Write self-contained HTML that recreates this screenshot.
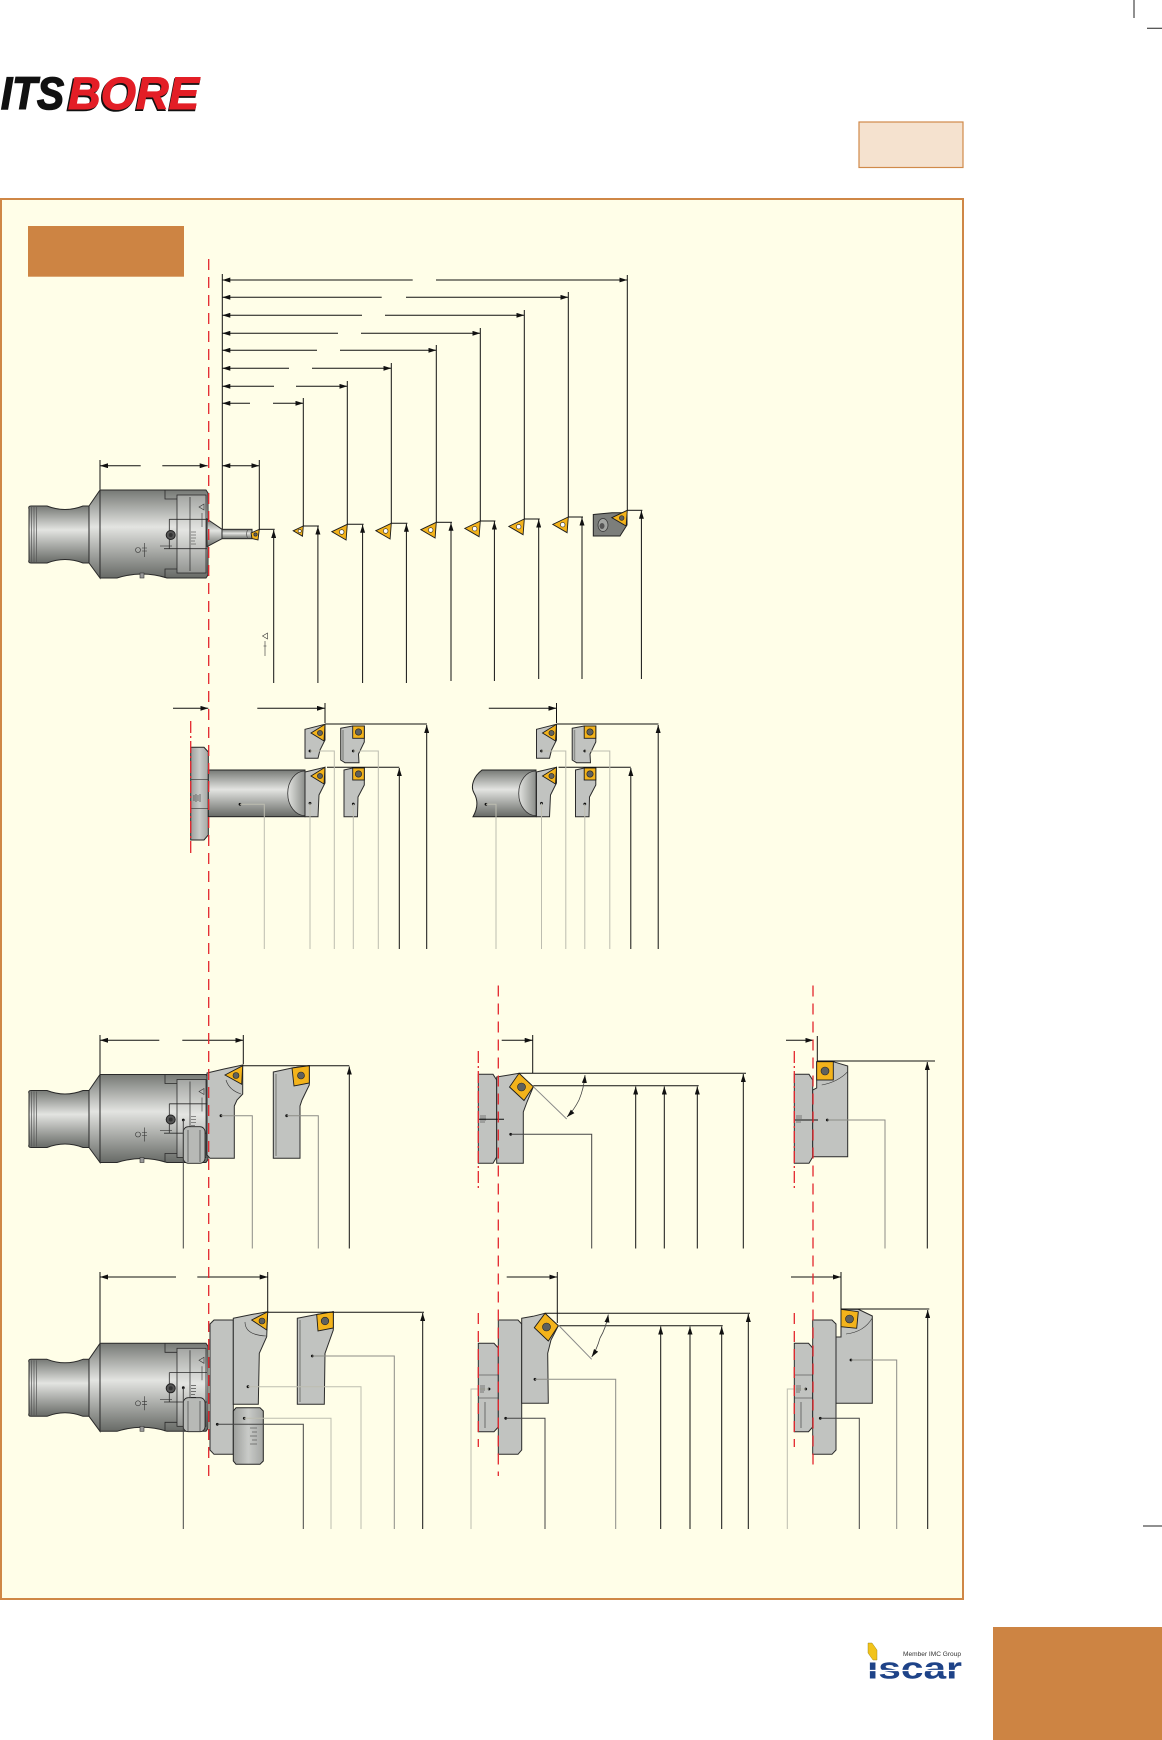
<!DOCTYPE html>
<html><head><meta charset="utf-8"><style>
html,body{margin:0;padding:0;background:#fff;}
svg{display:block;}
.c{fill:#c1c3c0;stroke:#2b2b2b;stroke-width:1}
.i{fill:#f3b31b;stroke:#1d1d1d;stroke-width:.9}
.s{fill:#5f615e;stroke:#222;stroke-width:.6}
.d{stroke:#111;stroke-width:1;fill:none}
.a{marker-end:url(#ar)}
.l1{stroke:#bdbdb0;stroke-width:1;fill:none}
.l2{stroke:#8c8c86;stroke-width:1;fill:none}
.l3{stroke:#444;stroke-width:1;fill:none}
.r{stroke:#e3262d;stroke-width:1.3;stroke-dasharray:11 7;fill:none}
.rd{stroke:#e3262d;stroke-width:1.3;stroke-dasharray:12 3 2 3;fill:none}
.t{stroke:#333;stroke-width:.6;fill:none}
</style></head><body>
<svg width="1162" height="1740" viewBox="0 0 1162 1740" xmlns="http://www.w3.org/2000/svg">
<defs>
<marker id="ar" viewBox="0 0 8 5" refX="8" refY="2.5" markerWidth="8" markerHeight="5" orient="auto" markerUnits="userSpaceOnUse"><path d="M0,0L8,2.5L0,5Z" fill="#111"/></marker>
<linearGradient id="g" x1="0" y1="0" x2="0" y2="1">
<stop offset="0" stop-color="#767975"/><stop offset="0.42" stop-color="#e3e4e1"/><stop offset="1" stop-color="#676a66"/>
</linearGradient>
<linearGradient id="gl" x1="0" y1="0" x2="0" y2="1">
<stop offset="0" stop-color="#a3a5a2"/><stop offset="0.45" stop-color="#e4e5e2"/><stop offset="1" stop-color="#939592"/>
</linearGradient>
<linearGradient id="gh" x1="0" y1="0" x2="1" y2="0">
<stop offset="0" stop-color="#e2e3e0"/><stop offset="1" stop-color="#8b8e8a"/>
</linearGradient>
<linearGradient id="gf" x1="0" y1="0" x2="1" y2="0">
<stop offset="0" stop-color="#9c9e9b"/><stop offset="0.5" stop-color="#c9cbc8"/><stop offset="1" stop-color="#a4a6a3"/>
</linearGradient>

<g id="tool">
<path d="M29,509 Q28,506 31,506 L47,506 Q65,513 83,506 L89,506 L89,563 L83,563 Q65,556 47,563 L31,563 Q28,563 29,560 Z" fill="url(#g)" stroke="#2a2a2a"/>
<path d="M31.5,507V562M34,507V562M36.5,507V562" stroke="#555" stroke-width=".7"/>
<path d="M89,506 L100,490 L100,578 L89,563 Z" fill="url(#g)" stroke="#2a2a2a"/>
<path d="M100,490 H206 L208,493 V575 L206,578 H167 Q142,570 117,578 H100 Z" fill="url(#g)" stroke="#2a2a2a"/>
<rect x="140" y="573" width="4" height="5" fill="#999" stroke="#333" stroke-width=".6"/>
<path d="M165,490 V499 H177 M165,578 V569 H177" fill="none" stroke="#2a2a2a" stroke-width=".8"/>
<rect x="177" y="495" width="29" height="78" fill="url(#gl)" stroke="#2a2a2a" stroke-width=".8"/>
<path d="M190,497 V571" stroke="#2a2a2a" stroke-width=".7"/>
<path d="M169.3,519.3 H207 M164,548.7 H207 M169.3,519.3 V548.7" stroke="#2a2a2a" stroke-width=".8" fill="none"/>
<circle cx="170.7" cy="535" r="4.5" fill="#555" stroke="#222"/>
<circle cx="170.7" cy="535" r="2" fill="#333"/>
<path d="M191,532H196M191,535H196M191,538H196M191,541H195M191,544H196" class="t"/>
<path d="M199,507 L204,504 L204,510Z" class="t"/>
<path d="M202,513V527" class="t"/>
<circle cx="138" cy="550" r="2.5" class="t"/>
<path d="M142,548H147M142,551H147M144.5,543V557" class="t"/>
<path d="M160,546 H172" class="t"/>
</g>

<g id="r2">
<path d="M305,729.3 L325,724.3 L325,740 L320,750 L318,758.3 L305,758.3Z" class="c"/>
<path d="M311,733 L325,724.3 L324,741Z" class="i"/>
<circle cx="320" cy="733" r="2.6" class="s"/>
<circle cx="310" cy="751" r="1.4" fill="#111"/>
<path d="M305,772 L325,767.3 L325,783 L319,795 L318,816.7 L305,816.7Z" class="c"/>
<path d="M311,776 L325,767.3 L324,784Z" class="i"/>
<circle cx="320" cy="776" r="2.6" class="s"/>
<circle cx="310" cy="803.3" r="1.4" fill="#111"/>
<path d="M340.7,728.3 L352.7,726 L364.3,726 L364.3,742 L358.5,754 L359,762.7 L345,762.7 L340.7,760Z" class="c"/>
<path d="M343,730 V760" stroke="#8c8e8b" stroke-width="1.5"/>
<rect x="352.7" y="726" width="11.6" height="12.3" class="i"/>
<circle cx="358.5" cy="732" r="3.2" class="s"/>
<circle cx="353.3" cy="751" r="1.4" fill="#111"/>
<path d="M344,770 L352.7,768 L364.3,768 L364.3,785 L358,797 L357.5,816.7 L344,816.7Z" class="c"/>
<rect x="352.7" y="768" width="11.6" height="12" class="i"/>
<circle cx="358.5" cy="774" r="3.2" class="s"/>
<circle cx="353.3" cy="804" r="1.4" fill="#111"/>
<path d="M257.3,708.3 H325" class="d a"/>
<path d="M325,703 V723" class="d"/>
<path d="M325,724 H427" class="d"/>
<path d="M426.7,949 V725" class="d a"/>
<path d="M327,767.3 H399.3" class="d"/>
<path d="M399.3,949 V768" class="d a"/>
<path d="M310,803.3 V949" class="l1"/>
<path d="M310,751 H334.3 V949" class="l1"/>
<path d="M353.3,804 V949" class="l1"/>
<path d="M353.3,751 H378.3 V949" class="l1"/>
</g>
</defs>

<!-- crop marks -->
<path d="M1134,0 V18 M1147,28.3 H1162 M1143,1526 H1162 M1143,1714.7 H1162 M1132,1720 V1740" stroke="#222" stroke-width="1"/>

<!-- logo -->
<g font-family="Liberation Sans, sans-serif" font-weight="bold" font-style="italic" font-size="45">
<text x="1" y="109" textLength="63" lengthAdjust="spacingAndGlyphs" fill="#111" stroke="#111" stroke-width="1.5">ITS</text>
<text x="66.5" y="110.5" textLength="132" lengthAdjust="spacingAndGlyphs" fill="#111" stroke="#111" stroke-width="1.5">BORE</text>
<text x="68" y="109" textLength="131" lengthAdjust="spacingAndGlyphs" fill="#e31e26" stroke="#e31e26" stroke-width="1">BORE</text>
</g>

<!-- peach box -->
<rect x="859" y="122" width="104" height="45.5" fill="#f5e2cf" stroke="#d08a4a" stroke-width="1.2"/>

<!-- main panel -->
<rect x="1" y="199" width="962" height="1400" fill="#fffee8" stroke="#cf8746" stroke-width="2"/>
<rect x="28" y="226" width="156" height="50.7" fill="#cd8443"/>

<!-- bottom right box -->
<rect x="993" y="1627" width="169" height="113" fill="#cd8443"/>

<!-- iscar -->
<polygon points="868,1643 872,1643 877,1650 877,1660 873,1660 868,1653" fill="#f2c31a" stroke="#8a7a10" stroke-width=".4"/>
<text x="903" y="1656" font-size="6.3" font-family="Liberation Sans, sans-serif" fill="#333" textLength="58" lengthAdjust="spacingAndGlyphs">Member IMC Group</text>
<text x="867" y="1678.5" font-size="31" font-weight="bold" font-family="Liberation Sans, sans-serif" fill="#1e4388" textLength="95" lengthAdjust="spacingAndGlyphs">ıscar</text>
<path d="M866,1670.5 H963" stroke="#fff" stroke-width="1.2"/>

<!-- ================= ROW 1 ================= -->
<!-- top dims -->
<g class="d">
<path d="M222.3,274 V529.3"/>
<path d="M412.7,280 H222.3" class="a"/><path d="M436,280 H627.3" class="a"/>
<path d="M381.7,297.3 H222.3" class="a"/><path d="M406,297.3 H568.3" class="a"/>
<path d="M362,315.3 H222.3" class="a"/><path d="M385,315.3 H524.3" class="a"/>
<path d="M338,333.3 H222.3" class="a"/><path d="M361,333.3 H480.3" class="a"/>
<path d="M317,350.3 H222.3" class="a"/><path d="M340,350.3 H436.3" class="a"/>
<path d="M289,368.3 H222.3" class="a"/><path d="M312,368.3 H391.3" class="a"/>
<path d="M274,386.3 H222.3" class="a"/><path d="M296,386.3 H347.3" class="a"/>
<path d="M250,403.3 H222.3" class="a"/><path d="M273,403.3 H303.3" class="a"/>
<path d="M627.3,275 V510.3"/>
<path d="M568.3,292 V517"/>
<path d="M524.3,310 V519"/>
<path d="M480.3,328 V521"/>
<path d="M436.3,345 V522.3"/>
<path d="M391.3,363 V523.3"/>
<path d="M347.3,381 V524.3"/>
<path d="M303.3,398 V526"/>
<!-- dim above tool -->
<path d="M140.7,465.7 H100" class="a"/><path d="M162.3,465.7 H207.7" class="a"/>
<path d="M100,460 V490"/>
<path d="M240,465.7 H222.3" class="a"/><path d="M240,465.7 H259.3" class="a"/>
<path d="M259.3,460 V529"/>
</g>

<use href="#tool"/>
<!-- boring bar -->
<path d="M207,519 L222,529.3 L222,538.7 L207,546.7 Z" fill="url(#g)" stroke="#2a2a2a"/>
<rect x="222" y="529.3" width="30" height="9.4" fill="url(#g)" stroke="#2a2a2a"/>
<path d="M248,529.5 Q245,534 248,538.5" fill="none" stroke="#555" stroke-width=".7"/>
<path d="M251,533 L259.3,529.3 L258,540 L252,538.5Z" class="i"/>
<circle cx="255.5" cy="534.5" r="1.7" class="s"/>

<!-- inserts row 1 -->
<g>
<path d="M293.2,530.8 L303.3,526 L302.5,536.2Z" class="i"/><circle cx="299.7" cy="531" r="1.6" fill="#fff" stroke="#222" stroke-width=".6"/>
<path d="M331.8,531.7 L347.3,524.3 L346.1,540Z" class="i"/><circle cx="341.7" cy="532" r="2.3" fill="#fff" stroke="#222" stroke-width=".6"/>
<path d="M375.8,530.7 L391.3,523.3 L390.1,539Z" class="i"/><circle cx="385.7" cy="531" r="2.3" fill="#fff" stroke="#222" stroke-width=".6"/>
<path d="M420.8,529.7 L436.3,522.3 L435.1,538Z" class="i"/><circle cx="430.7" cy="530" r="2.3" fill="#fff" stroke="#222" stroke-width=".6"/>
<path d="M464.8,528.4 L480.3,521 L479.1,536.7Z" class="i"/><circle cx="474.7" cy="528.7" r="2.3" fill="#fff" stroke="#222" stroke-width=".6"/>
<path d="M508.8,526.4 L524.3,519 L523.1,534.7Z" class="i"/><circle cx="518.7" cy="526.7" r="2.3" fill="#fff" stroke="#222" stroke-width=".6"/>
<path d="M552.8,524.4 L568.3,517 L567.1,532.7Z" class="i"/><circle cx="562.7" cy="524.7" r="2.3" fill="#fff" stroke="#222" stroke-width=".6"/>
<path d="M593.3,514.5 L612,512.7 L627,512.7 L627,525 L620,536 L593.3,536 Z" fill="#7c7e7b" stroke="#222"/>
<ellipse cx="603" cy="525" rx="5" ry="6.5" fill="#a2a4a1" stroke="#333" stroke-width=".7"/>
<ellipse cx="602" cy="526" rx="2.5" ry="3" fill="#555"/>
<path d="M611.8,517.7 L627.3,510.3 L626.1,526Z" class="i"/><circle cx="621.7" cy="518" r="2.3" class="s"/>
</g>

<!-- verticals row 1 -->
<g class="d">
<path d="M259.3,529.3 H274.7"/><path d="M273.7,683 V530" class="a"/>
<path d="M303.3,526 H318.9"/><path d="M317.9,683 V526.5" class="a"/>
<path d="M347.3,524.3 H363.6"/><path d="M362.6,683 V524.8" class="a"/>
<path d="M391.3,523.3 H407.4"/><path d="M406.4,683 V523.8" class="a"/>
<path d="M436.3,522.3 H452"/><path d="M451,681 V522.8" class="a"/>
<path d="M480.3,521 H495.4"/><path d="M494.4,681 V521.5" class="a"/>
<path d="M524.3,519 H539.7"/><path d="M538.7,679 V519.5" class="a"/>
<path d="M568.3,517 H583"/><path d="M582,679 V517.5" class="a"/>
<path d="M627.3,510.3 H642.4"/><path d="M641.4,679 V510.8" class="a"/>
</g>
<path d="M262.5,636 L267.5,633 L267.5,639Z" class="t"/>
<path d="M265,641 V656 M263.5,646 H266.5" class="t"/>

<!-- ================= ROW 2 ================= -->
<path d="M173,708.3 H208.3" class="d a"/>
<path d="M190.7,747.3 L204,747.3 L208.3,752 L208.3,835 L204,840 L190.7,840 Z" fill="url(#gf)" stroke="#222"/>
<path d="M190.7,779.3 H208.3 M190.7,808.3 H208.3" class="t"/>
<path d="M194,795V801M196,794V802M198,795V801M200,794V802" class="t"/>
<!-- left bar -->
<rect x="208.3" y="770" width="96.7" height="46.7" fill="url(#g)" stroke="#222"/>
<path d="M305,771 A17,22 0 0 0 305,815.7 Z" fill="url(#gh)" stroke="#333" stroke-width=".8"/>
<circle cx="240" cy="804.3" r="1.4" fill="#111"/>
<path d="M240,804.3 H264.3 V949" class="l1"/>
<use href="#r2"/>
<!-- right bar -->
<path d="M482,770 L536,770 L536,816.7 L473,816.7 C478,808 478,800 474,793 C470,786 474,776 482,770 Z" fill="url(#g)" stroke="#222"/>
<path d="M536,771 A17,22 0 0 0 536,815.7 Z" fill="url(#gh)" stroke="#333" stroke-width=".8"/>
<circle cx="486" cy="804.3" r="1.4" fill="#111"/>
<path d="M486,804.3 H496 V949" class="l1"/>
<use href="#r2" transform="translate(231.5,0)"/>

<!-- ================= ROW 3 ================= -->
<g class="d">
<path d="M159.3,1040.3 H100" class="a"/><path d="M182.3,1040.3 H243.3" class="a"/>
<path d="M100,1035 V1074.3"/><path d="M243.3,1035 V1064.3"/>
</g>
<use href="#tool" transform="translate(0,584.5)"/>
<rect x="183.3" y="1126.7" width="21.7" height="36.6" rx="5" fill="#b7b9b6" stroke="#222" stroke-width=".8"/>
<path d="M188,1130 V1162 M200,1130 V1162" class="t"/>
<!-- head -->
<path d="M207,1073 L224,1069 L242.7,1065 L242.7,1094 L237,1100 L234.3,1106 L234.3,1158.3 L210,1158.3 L207,1155 Z" class="c"/>
<path d="M225,1075 L242.7,1065.7 L241.7,1084.3Z" class="i"/>
<circle cx="236" cy="1075.5" r="3" class="s"/>
<path d="M226,1080 Q229,1090 241,1094" class="t"/>
<circle cx="221" cy="1115.7" r="1.4" fill="#111"/>
<!-- separate cartridge -->
<path d="M273.3,1072 L292,1068 L309.3,1065.7 L309.3,1085 L302,1100 L300,1106 L300,1158.3 L273.3,1158.3 Z" class="c"/>
<path d="M276,1074 V1156" stroke="#8c8e8b" stroke-width="1.5"/>
<path d="M292,1068 L309.3,1065.7 L309.3,1083 L294,1086 Z" class="i"/>
<circle cx="301" cy="1075.5" r="3.5" class="s"/>
<circle cx="286.7" cy="1115.7" r="1.4" fill="#111"/>
<circle cx="183.3" cy="1120" r="1.4" fill="#111"/>
<g class="d">
<path d="M242.7,1065.7 H349.3"/><path d="M349.3,1248.5 V1066.5" class="a"/>
</g>
<path d="M183.3,1120 V1248.5" class="l3"/>
<path d="M221,1115.7 H252.3 V1248.5" class="l2"/>
<path d="M286.7,1115.7 H318.3 V1248.5" class="l2"/>

<!-- row 3 middle -->
<path d="M478.3,1074.3 L493,1074.3 L496.7,1080 L496.7,1157 L493,1163.3 L478.3,1163.3Z" class="c"/>
<path d="M480,1116H486M480,1118H486M480,1120H486M480,1122H485" class="t"/>
<path d="M496.7,1077 L509,1075 L519,1073.3 L533.3,1086.7 L527,1102 L523.3,1112 L523.3,1163.3 L496.7,1163.3 Z" class="c"/>
<path d="M519,1073.3 L533.3,1086.7 L524,1100.5 L509.5,1087 Z" class="i"/>
<circle cx="521.5" cy="1087" r="4" class="s"/>
<circle cx="510.7" cy="1134.3" r="1.4" fill="#111"/>
<path d="M479,1119.3 H504" class="d"/>
<g class="d">
<path d="M501.7,1040.3 H532.7" class="a"/><path d="M532.7,1035 V1073"/>
<path d="M519,1073.3 H746"/><path d="M743.3,1248.5 V1074" class="a"/>
<path d="M533.3,1085.7 H698.7"/>
<path d="M635.7,1248.5 V1086.5" class="a"/>
<path d="M664.3,1248.5 V1086.5" class="a"/>
<path d="M697.3,1248.5 V1086.5" class="a"/>
</g>
<path d="M533.3,1086.7 L566.7,1119" stroke="#888" stroke-width="1" fill="none"/>
<path d="M579,1100 Q584,1088 585,1075" stroke="#444" stroke-width=".8" fill="none" class="a"/>
<path d="M579,1100 Q574,1110 567,1117" stroke="#444" stroke-width=".8" fill="none" class="a"/>
<path d="M510.7,1134.3 H591.7 V1248.5" class="l3"/>

<!-- row 3 right -->
<path d="M794.3,1074.3 L809,1074.3 L812.7,1080 L812.7,1157 L809,1163.3 L794.3,1163.3Z" class="c"/>
<path d="M796,1116H802M796,1118H802M796,1120H802M796,1122H801" class="t"/>
<path d="M816.7,1061.7 L833.3,1061.7 L847.7,1066 L847.7,1156.7 L812.7,1156.7 L812.7,1090 L816.7,1088 Z" class="c"/>
<path d="M821.7,1085 Q838,1082 847.7,1071.7" class="t"/>
<rect x="816.7" y="1061.7" width="16.6" height="18.3" class="i"/>
<circle cx="825" cy="1071" r="4" class="s"/>
<circle cx="827.3" cy="1120" r="1.4" fill="#111"/>
<path d="M795,1120 H818" class="d"/>
<g class="d">
<path d="M786,1040.3 H813.3" class="a"/><path d="M817.3,1036 V1061"/>
<path d="M817,1061 H935"/><path d="M927.3,1248.5 V1062" class="a"/>
</g>
<path d="M827.3,1120 H885 V1248.5" class="l2"/>

<!-- ================= ROW 4 ================= -->
<g class="d">
<path d="M176,1277 H100" class="a"/><path d="M197.3,1277 H267.7" class="a"/>
<path d="M100,1272 V1343.3"/><path d="M267.7,1272 V1311.7"/>
</g>
<use href="#tool" transform="translate(0,853.3)"/>
<rect x="183.3" y="1397.7" width="21.7" height="34" rx="5" fill="#b7b9b6" stroke="#222" stroke-width=".8"/>
<path d="M188,1401 V1431 M200,1401 V1431" class="t"/>
<!-- plate -->
<path d="M214,1320 L233.3,1320 L233.3,1454.3 L214,1454.3 L210,1450 L210,1324 Z" class="c"/>
<circle cx="217.3" cy="1424.3" r="1.4" fill="#111"/>
<!-- upper cartridge -->
<path d="M233.3,1318.3 L251.7,1314.5 L267.7,1311.7 L266.7,1336.7 L259.3,1353.3 L258.3,1404.3 L233.3,1404.3 Z" class="c"/>
<path d="M251.7,1320 L267.7,1311.7 L266.7,1330Z" class="i"/>
<circle cx="262" cy="1321" r="3" class="s"/>
<path d="M245,1322 Q245,1335 266,1336" class="t"/>
<circle cx="248" cy="1386.7" r="1.4" fill="#111"/>
<!-- lower block -->
<path d="M236,1407.7 L260,1407.7 L263.3,1411 L263.3,1461 L260,1464.3 L236,1464.3 L233.3,1461 L233.3,1411 Z" fill="url(#gf)" stroke="#222"/>
<path d="M250,1428H257M252,1432H257M250,1436H257M252,1440H257M250,1444H257" class="t"/>
<circle cx="244.3" cy="1418.3" r="1.4" fill="#111"/>
<!-- separate cartridge -->
<path d="M297.3,1318.3 L316.7,1314.5 L333.3,1311.7 L333.3,1330 L325,1353.3 L324.3,1404.3 L297.3,1404.3 Z" class="c"/>
<path d="M300,1320 V1402" stroke="#8c8e8b" stroke-width="1.5"/>
<path d="M316.7,1314.5 L333.3,1311.7 L333.3,1328 L318,1331 Z" class="i"/>
<circle cx="325" cy="1321" r="3.8" class="s"/>
<circle cx="312.3" cy="1356" r="1.4" fill="#111"/>
<circle cx="183.3" cy="1387.7" r="1.4" fill="#111"/>
<g class="d">
<path d="M267.7,1312.3 H424"/><path d="M422.7,1529 V1313" class="a"/>
</g>
<path d="M183.3,1387.7 V1529" class="l3"/>
<path d="M217.3,1424.3 H303.3 V1529" class="l3"/>
<path d="M244.3,1418.3 H331 V1529" class="l1"/>
<path d="M248,1386.7 H361 V1529" class="l1"/>
<path d="M312.3,1356 H394.3 V1529" class="l2"/>

<!-- row 4 middle -->
<path d="M478.3,1343.3 L494,1343.3 L498.3,1348 L498.3,1427 L494,1431.7 L478.3,1431.7 Z" class="c"/>
<path d="M478.3,1375 H498.3 M478.3,1398 H498.3 M485,1402 V1428" class="t"/>
<path d="M480,1386H485M480,1388H485M480,1390H485M480,1392H484" class="t"/>
<circle cx="489" cy="1389" r="1.4" fill="#111"/>
<path d="M498.3,1320 L518,1320 L521.7,1324 L521.7,1450 L518,1454.3 L498.3,1454.3Z" class="c"/>
<circle cx="505.7" cy="1418.3" r="1.4" fill="#111"/>
<path d="M521.7,1318.3 L533,1316.3 L545,1313.3 L558.3,1325.7 L551,1340 L547.7,1353.3 L548.3,1403.3 L521.7,1403.3 Z" class="c"/>
<path d="M545,1313.3 L558.3,1325.7 L548.3,1341 L534.3,1327.7 Z" class="i"/>
<circle cx="546.5" cy="1327" r="4" class="s"/>
<circle cx="535" cy="1379.3" r="1.4" fill="#111"/>
<g class="d">
<path d="M506.7,1277 H557.3" class="a"/><path d="M557.3,1272 V1323"/>
<path d="M545,1313.3 H750"/><path d="M748.3,1529 V1314" class="a"/>
<path d="M558,1325.7 H722.7"/>
<path d="M660.7,1529 V1326.5" class="a"/>
<path d="M690,1529 V1326.5" class="a"/>
<path d="M721.7,1529 V1326.5" class="a"/>
</g>
<path d="M558.3,1325 L591.7,1359.3" stroke="#888" stroke-width="1" fill="none"/>
<path d="M600,1338 Q606,1328 608.3,1314.5" stroke="#444" stroke-width=".8" fill="none" class="a"/>
<path d="M600,1338 Q597,1349 591.7,1357" stroke="#444" stroke-width=".8" fill="none" class="a"/>
<path d="M535,1379.3 H615.7 V1529" class="l2"/>
<path d="M505.7,1418.3 H545 V1529" class="l3"/>
<path d="M489,1389 H471 V1529" class="l1"/>

<!-- row 4 right -->
<path d="M794.3,1343.3 L808.5,1343.3 L812.7,1348 L812.7,1427 L808.5,1431.7 L794.3,1431.7 Z" class="c"/>
<path d="M794.3,1375 H812.7 M794.3,1398 H812.7 M801,1402 V1428" class="t"/>
<path d="M796,1386H801M796,1388H801M796,1390H801M796,1392H800" class="t"/>
<circle cx="805.7" cy="1389" r="1.4" fill="#111"/>
<path d="M812.7,1320 L832,1320 L836,1324 L836,1450 L832,1454.3 L812.7,1454.3Z" class="c"/>
<circle cx="820.3" cy="1418.3" r="1.4" fill="#111"/>
<path d="M836,1337 L841,1337 L841,1309.3 L858.3,1309.3 L872.3,1316 L872.3,1403.3 L836,1403.3 Z" class="c"/>
<path d="M846,1334 Q864,1332 872.3,1318" class="t"/>
<path d="M841,1309.3 L858.3,1311.7 L856.7,1328.3 L841,1326.7 Z" class="i"/>
<circle cx="849.5" cy="1319" r="4" class="s"/>
<circle cx="851" cy="1360" r="1.4" fill="#111"/>
<g class="d">
<path d="M791,1277 H841" class="a"/><path d="M841,1272 V1309"/>
<path d="M841,1309 H929.3"/><path d="M927.7,1529 V1310" class="a"/>
</g>
<path d="M851,1360 H896.7 V1529" class="l2"/>
<path d="M820.3,1418.3 H859.3 V1529" class="l3"/>
<path d="M805.7,1389 H787.3 V1529" class="l1"/>

<!-- red center lines -->
<path d="M208.7,259 V1476" class="r"/>
<path d="M190.7,721 V855" class="rd"/>
<path d="M498.3,985.5 V1476" class="r"/>
<path d="M813,985.5 V1466" class="r"/>
<path d="M478.3,1051 V1190" class="rd"/>
<path d="M478.3,1313 V1447" class="r"/>
<path d="M794.3,1051 V1190" class="rd"/>
<path d="M794.3,1313 V1447" class="r"/>
</svg>
</body></html>
